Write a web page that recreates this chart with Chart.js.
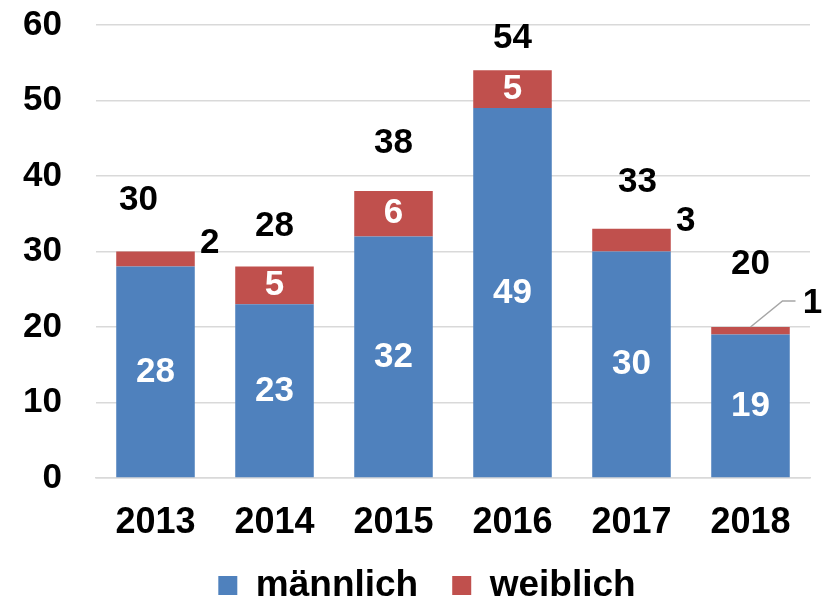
<!DOCTYPE html>
<html>
<head>
<meta charset="utf-8">
<script src="https://cdn.jsdelivr.net/npm/chart.js@4/dist/chart.umd.min.js"></script>
<style>
  html, body { margin: 0; padding: 0; background: #fff; }
  #wrap { width: 829px; height: 604px; }
</style>
</head>
<body>
<div id="wrap"><canvas id="chart"></canvas></div>
<script>
// Daten
const years = ['2013', '2014', '2015', '2016', '2017', '2018'];
const maennlich = [28, 23, 32, 49, 30, 19];
const weiblich = [2, 5, 6, 5, 3, 1];
const yTicks = [0, 10, 20, 30, 40, 50, 60];

const FONT = 'Liberation Sans, Arial, sans-serif';

// Position der Summen-Labels (x-Versatz, Abstand über dem Balken)
const totalOffsets = [[-17, 51], [0, 40], [0, 48], [0, 32], [6, 47], [0, 63]];

// Beschriftungen zeichnen
const labelPlugin = {
  id: 'labels',
  afterLayout(chart) {
    // Legende etwas nach rechts schieben
    chart.legend.left += 22;
    chart.legend.right += 22;
  },
  afterDatasetsDraw(chart) {
    const ctx = chart.ctx;
    const yScale = chart.scales.y;
    const metaM = chart.getDatasetMeta(0);
    const metaW = chart.getDatasetMeta(1);
    ctx.save();
    ctx.font = 'bold 35px ' + FONT;
    ctx.textAlign = 'center';
    ctx.textBaseline = 'middle';

    years.forEach((y, i) => {
      const barM = metaM.data[i];
      const barW = metaW.data[i];
      const half = barM.width / 2;
      const top = yScale.getPixelForValue(maennlich[i] + weiblich[i]);

      // männlich - weiß in der Mitte
      ctx.fillStyle = '#fff';
      ctx.fillText(maennlich[i], barM.x, yScale.getPixelForValue(maennlich[i] / 2));

      // weiblich
      const wMid = yScale.getPixelForValue(maennlich[i] + weiblich[i] / 2);
      if (weiblich[i] >= 5) {
        ctx.fillStyle = '#fff';
        ctx.fillText(weiblich[i], barW.x, wMid);
      } else if (weiblich[i] === 1) {
        // mit Führungslinie
        ctx.strokeStyle = '#A6A6A6';
        ctx.lineWidth = 1.5;
        ctx.beginPath();
        ctx.moveTo(barW.x, top);
        ctx.lineTo(barW.x + 32, top - 26);
        ctx.lineTo(barW.x + 45, top - 26);
        ctx.stroke();
        ctx.fillStyle = '#000';
        ctx.fillText(weiblich[i], barW.x + 62, top - 24);
      } else {
        ctx.fillStyle = '#000';
        ctx.fillText(weiblich[i], barW.x + half + 15, top - 8);
      }

      // Summe
      const total = maennlich[i] + weiblich[i];
      const off = totalOffsets[i];
      ctx.fillStyle = '#000';
      ctx.fillText(total, barM.x + off[0], top - off[1]);
    });
    ctx.restore();
  }
};

new Chart(document.getElementById('chart'), {
  type: 'bar',
  data: {
    labels: years,
    datasets: [
      { label: 'männlich', data: maennlich, backgroundColor: '#4F81BD' },
      { label: 'weiblich', data: weiblich, backgroundColor: '#C0504D' }
    ]
  },
  options: {
    responsive: true,
    maintainAspectRatio: false,
    animation: false,
    layout: { padding: { top: 25, right: 19, left: 0, bottom: -10 } },
    datasets: { bar: { categoryPercentage: 1, barPercentage: 0.66 } },
    plugins: {
      legend: {
        position: 'bottom',
        labels: {
          font: { size: 37, weight: 'bold', family: FONT },
          color: '#000',
          boxWidth: 19,
          boxHeight: 19,
          padding: 34
        }
      },
      tooltip: { enabled: false }
    },
    scales: {
      x: {
        stacked: true,
        grid: { display: false },
        border: { color: '#D9D9D9', width: 1.5 },
        afterFit(scale) { scale.height = 55; },
        ticks: { font: { size: 36, weight: 'bold', family: FONT }, color: '#000', padding: 15 }
      },
      y: {
        stacked: true,
        min: 0,
        max: 60,
        afterFit(scale) { scale.width = 96; scale.paddingTop = 0; scale.paddingBottom = 0; },
        afterBuildTicks(scale) { scale.ticks = yTicks.map(v => ({ value: v })); },
        grid: { color: '#D9D9D9', lineWidth: 1.5, drawTicks: false },
        border: { display: false },
        ticks: { font: { size: 35, weight: 'bold', family: FONT }, color: '#000', padding: 34 }
      }
    }
  },
  plugins: [labelPlugin]
});
</script>
</body>
</html>
